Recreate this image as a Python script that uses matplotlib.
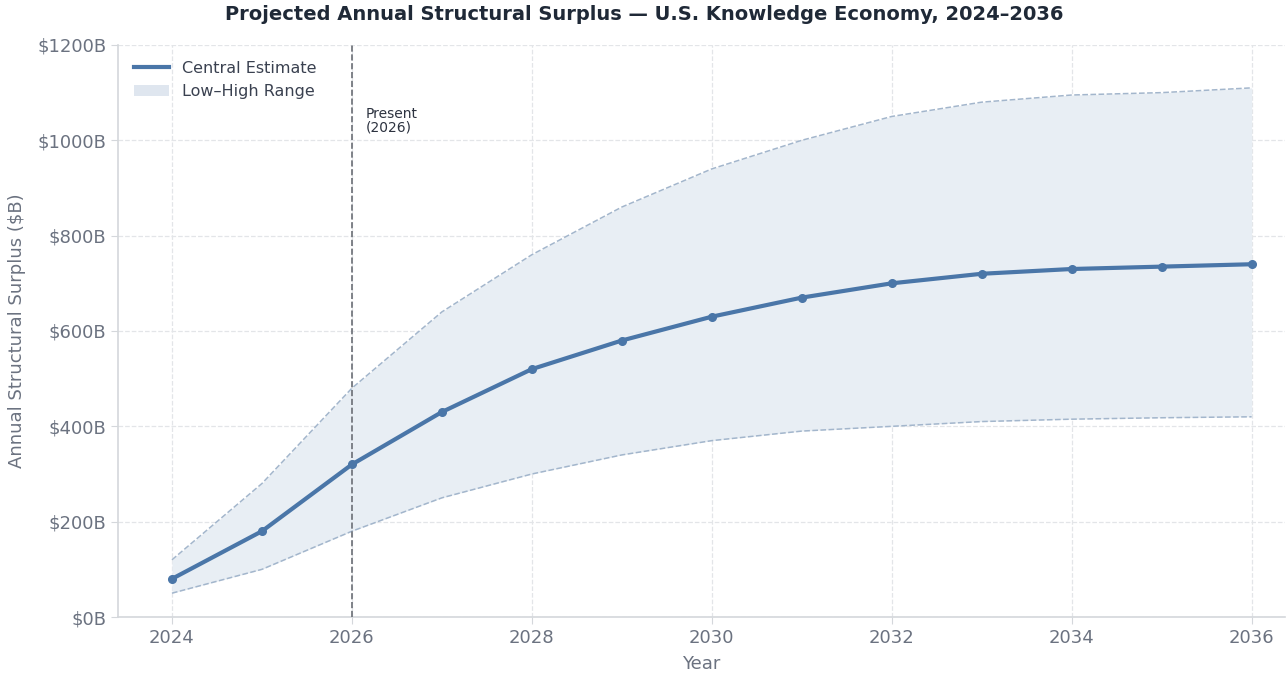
import matplotlib
matplotlib.use("Agg")
import matplotlib.pyplot as plt
from matplotlib.ticker import FuncFormatter
from matplotlib.lines import Line2D
from matplotlib.patches import Patch

years = [2024, 2025, 2026, 2027, 2028, 2029, 2030, 2031, 2032, 2033, 2034, 2035, 2036]
central = [80, 180, 320, 430, 520, 580, 630, 670, 700, 720, 730, 735, 740]
high = [120, 280, 480, 640, 760, 860, 940, 1000, 1050, 1080, 1095, 1100, 1110]
low = [50, 100, 180, 250, 300, 340, 370, 390, 400, 410, 415, 418, 420]
xticks = [2024, 2026, 2028, 2030, 2032, 2034, 2036]
yticks = [0, 200, 400, 600, 800, 1000, 1200]
present_year = 2026

plt.rcParams['font.family'] = ['DejaVu Sans']
fig = plt.figure(figsize=(12.88, 6.73), dpi=100)
ax = fig.add_axes([0.0916, 0.0832, 0.906, 0.85])

main = '#4a76a8'
fill_c = '#e8eef4'
ax.fill_between(years, low, high, color=fill_c, linewidth=0, zorder=1)
ax.plot(years, high, linestyle='--', color='#a3b6cc', linewidth=1.1, zorder=2)
ax.plot(years, low, linestyle='--', color='#a3b6cc', linewidth=1.1, zorder=2)
ax.plot(years, central, color=main, linewidth=3, marker='o', markersize=5.5, zorder=4)

ax.axvline(present_year, color='#6a6e75', linestyle='--', linewidth=1.2, zorder=3)
ax.text(present_year + 0.15, 1070, 'Present\n(2026)', fontsize=10, color='#2d3340', va='top', ha='left', linespacing=1.0)

ax.set_xlim(2023.4, 2036.37)
ax.set_ylim(0, 1200)
ax.set_xticks(xticks)
ax.set_yticks(yticks)
ax.yaxis.set_major_formatter(FuncFormatter(lambda v, p: f'${int(v)}B'))

ax.grid(True, linestyle='--', color='#e3e5e8', linewidth=0.9, zorder=0)
ax.set_axisbelow(True)
for s in ['top', 'right']:
    ax.spines[s].set_visible(False)
for s in ['left', 'bottom']:
    ax.spines[s].set_color('#d4d7db')
    ax.spines[s].set_linewidth(1.2)
ax.tick_params(axis='both', colors='#d4d7db', labelcolor='#6b7280', labelsize=13, length=5)

ax.set_xlabel('Year', fontsize=13, color='#6b7280', labelpad=6)
ax.set_ylabel('Annual Structural Surplus ($B)', fontsize=13, color='#6b7280', labelpad=8)
fig.suptitle('Projected Annual Structural Surplus \u2014 U.S. Knowledge Economy, 2024\u20132036',
             fontsize=14, fontweight='bold', color='#1f2937', y=0.992)

handles = [Line2D([0], [0], color=main, linewidth=3),
           Patch(facecolor='#dfe6ef', edgecolor='none')]
labels = ['Central Estimate', 'Low\u2013High Range']
ax.legend(handles, labels, loc='upper left', frameon=False, fontsize=11.5, labelcolor='#3a4150',
          handlelength=2.2, borderaxespad=0.6)

fig.savefig('out.png', dpi=100)
